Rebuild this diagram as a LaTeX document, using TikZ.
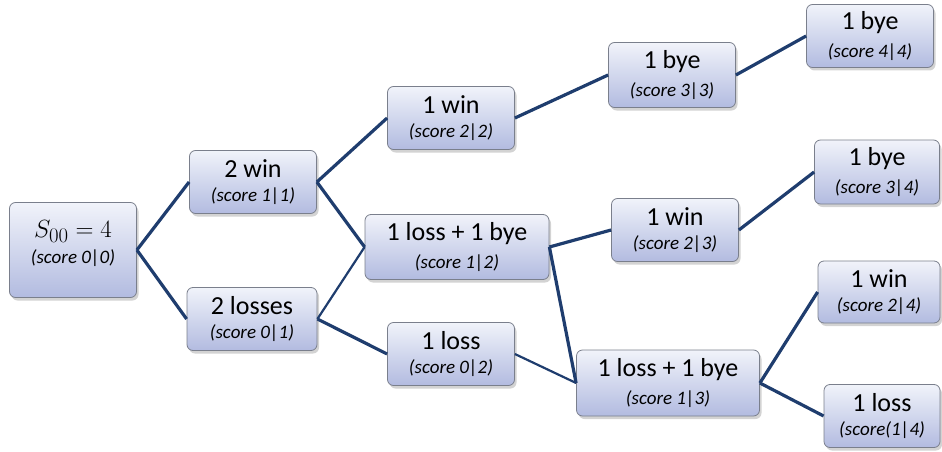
\documentclass[tikz,border=0pt]{standalone}
\usepackage{fontspec}
\setmainfont{Carlito}
\usepackage{tikz}
\usetikzlibrary{shadows}
\definecolor{lineNavy}{HTML}{1F3D6E}
\definecolor{boxTop}{HTML}{F1F3FA}
\definecolor{boxBottom}{HTML}{B2BBE0}
\definecolor{boxEdge}{HTML}{7A7F8C}
\newcommand{\main}[1]{{\fontsize{26}{28}\selectfont #1}}
\newcommand{\scr}[1]{{\fontsize{19}{21}\selectfont\itshape #1}}

\begin{document}
\begin{tikzpicture}[
  x=1pt, y=-1pt,
  tnode/.style={draw=boxEdge, top color=boxTop, bottom color=boxBottom,
                rounded corners=6pt, minimum width=127pt, minimum height=63pt,
                align=center, inner sep=2pt, line width=0.8pt,
                drop shadow={opacity=0.35, shadow xshift=2pt, shadow yshift=-3pt}},
  wide/.style={tnode, minimum width=184pt, minimum height=65pt},
  arr/.style={lineNavy, line width=3.2pt},
  thinarr/.style={lineNavy, line width=2.2pt},
]
  \useasboundingbox (0,0) rectangle (942,452);

  % level 0
  \node[tnode, minimum height=95pt] (root) at (73,250)
    {{\fontsize{30}{32}\selectfont $S_{00}=4$}\\[6pt]\scr{(score 0|0)}\\[4pt]};

  % level 1
  \node[tnode] (win2) at (253,182) {\main{2 win}\\[9pt]\scr{(score 1|1)}};
  \node[tnode, minimum width=130pt] (loss2) at (252,319) {\main{2 losses}\\[9pt]\scr{(score 0|1)}};

  % level 2
  \node[tnode] (win1a) at (451,118) {\main{1 win}\\[9pt]\scr{(score 2|2)}};
  \node[wide] (lb12) at (457,247) {\main{1 loss + 1 bye}\\[9pt]\scr{(score 1|2)}};
  \node[tnode] (loss02) at (451,354) {\main{1 loss}\\[9pt]\scr{(score 0|2)}};

  % level 3
  \node[tnode, minimum height=65pt] (bye33) at (672,75) {\main{1 bye}\\[9pt]\scr{(score 3|3)}};
  \node[tnode] (win23) at (675,230) {\main{1 win}\\[9pt]\scr{(score 2|3)}};
  \node[wide, minimum width=183pt, minimum height=66pt] (lb13) at (668,383) {\main{1 loss + 1 bye}\\[9pt]\scr{(score 1|3)}};

  % level 4
  \node[tnode] (bye44) at (870,36) {\main{1 bye}\\[9pt]\scr{(score 4|4)}};
  \node[tnode, minimum width=125pt, minimum height=64pt] (bye34) at (877,172) {\main{1 bye}\\[9pt]\scr{(score 3|4)}};
  \node[tnode, minimum width=122pt, minimum height=62pt] (win24) at (879,292) {\main{1 win}\\[9pt]\scr{(score 2|4)}};
  \node[tnode, minimum width=116pt] (loss14) at (882,416) {\main{1 loss}\\[9pt]\scr{(score(1|4)}};

  % connectors
  \draw[arr] (root.east) -- (win2.west);
  \draw[arr] (root.east) -- (loss2.west);
  \draw[arr] (win2.east) -- (win1a.west);
  \draw[arr] (win2.east) -- (lb12.west);
  \draw[thinarr] (loss2.east) -- (lb12.west);
  \draw[arr] (loss2.east) -- (loss02.west);
  \draw[arr] (win1a.east) -- (bye33.west);
  \draw[arr] (lb12.east) -- (win23.west);
  \draw[arr] (lb12.east) -- (lb13.west);
  \draw[thinarr] (loss02.east) -- (lb13.west);
  \draw[arr] (bye33.east) -- (bye44.west);
  \draw[arr] (win23.east) -- (bye34.west);
  \draw[arr] (lb13.east) -- (win24.west);
  \draw[arr] (lb13.east) -- (loss14.west);
\end{tikzpicture}
\end{document}
